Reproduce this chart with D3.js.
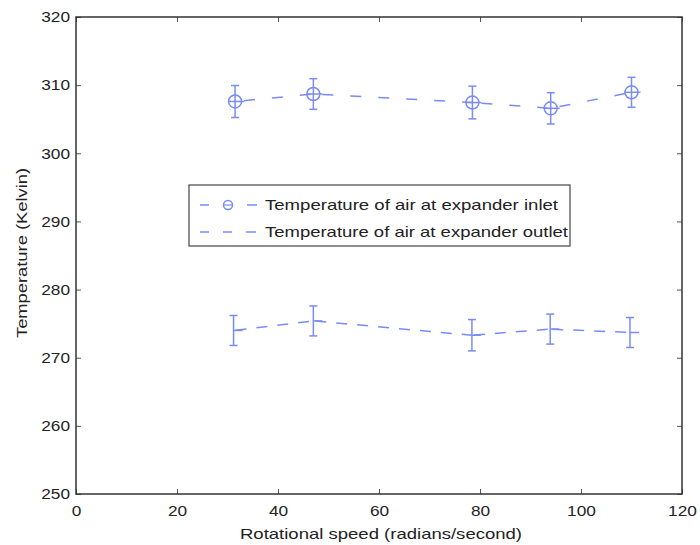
<!DOCTYPE html>
<html>
<head>
<meta charset="utf-8">
<script src="https://cdn.jsdelivr.net/npm/d3@7"></script>
<style>
  body { margin: 0; background: #fff; }
  text { font-family: "Liberation Sans", Arial, sans-serif; fill: #222; }
</style>
</head>
<body>
<div id="chart"></div>
<script>
// values
var speeds = [31.5, 47, 78.5, 94, 110];
var inletTemp = [307.6, 308.7, 307.45, 306.6, 308.95];
var inletErr = [2.35, 2.25, 2.4, 2.3, 2.2];
var outletSpeeds = [31.2, 47, 78.4, 93.9, 109.7];
var outletTemp = [274.0, 275.4, 273.3, 274.2, 273.7];
var outletErr = [2.2, 2.2, 2.3, 2.2, 2.2];
var xTicks = [0, 20, 40, 60, 80, 100, 120];
var yTicks = [250, 260, 270, 280, 290, 300, 310, 320];
var legendLabels = ["Temperature of air at expander inlet", "Temperature of air at expander outlet"];

var inlet = speeds.map(function(s, i) { return { x: s, y: inletTemp[i], e: inletErr[i] }; });
var outlet = outletSpeeds.map(function(s, i) { return { x: s, y: outletTemp[i], e: outletErr[i] }; });

var margin = { top: 17, right: 18, bottom: 51, left: 76 },
    width = 700 - margin.left - margin.right,
    height = 545 - margin.top - margin.bottom;

var blue = "#7a8cf4";

var svg = d3.select("#chart")
  .append("svg")
    .attr("width", 700)
    .attr("height", 545)
  .append("g")
    .attr("transform", "translate(" + margin.left + "," + margin.top + ")");

var x = d3.scaleLinear().domain([0, 120]).range([0, width]);
var y = d3.scaleLinear().domain([250, 320]).range([height, 0]);

// stretch text horizontally (the reference glyphs are wide)
function widen(sel, k) {
  sel.each(function() {
    var w = this.getComputedTextLength();
    d3.select(this).attr("textLength", w * k).attr("lengthAdjust", "spacingAndGlyphs");
  });
}
// fit a centred text to a given width, anchoring by hand
function fitCentered(sel, cx, w) {
  sel.attr("text-anchor", "start")
    .attr("x", cx - w / 2)
    .attr("textLength", w)
    .attr("lengthAdjust", "spacingAndGlyphs");
}

// axes, ticks pointing inward
var xAxis = svg.append("g")
  .attr("transform", "translate(0," + height + ")")
  .call(d3.axisBottom(x).tickValues(xTicks).tickSize(-5).tickPadding(11));
var yAxis = svg.append("g")
  .call(d3.axisLeft(y).tickValues(yTicks).tickSize(-5).tickPadding(6));
svg.append("g")
  .call(d3.axisTop(x).tickValues(xTicks).tickSize(-5).tickFormat(""));
svg.append("g")
  .attr("transform", "translate(" + width + ",0)")
  .call(d3.axisRight(y).tickValues(yTicks).tickSize(-5).tickFormat(""));

svg.selectAll(".domain").remove();
svg.selectAll(".tick line").attr("stroke", "#555").attr("stroke-width", 1);
svg.selectAll(".tick text").style("font-size", "15px").attr("fill", "#222");
xAxis.selectAll(".tick text").each(function() {
  var t = d3.select(this), w = this.getComputedTextLength() * 1.15;
  t.call(fitCentered, 0, w);
});
yAxis.selectAll(".tick text").call(widen, 1.15);

svg.append("rect")
  .attr("width", width)
  .attr("height", height)
  .attr("fill", "none")
  .attr("stroke", "#333")
  .attr("stroke-width", 1.5);

// axis titles
svg.append("text")
  .attr("y", height + 45)
  .style("font-size", "15px")
  .text("Rotational speed (radians/second)")
  .call(fitCentered, 381 - margin.left, 282);

svg.append("text")
  .attr("transform", "translate(" + (-49) + "," + (253 - margin.top) + ")rotate(-90)")
  .style("font-size", "14.5px")
  .text("Temperature (Kelvin)")
  .call(fitCentered, 0, 170);

// dashed connecting lines, one per segment so a dash starts at each point
var line = d3.line().x(function(d) { return x(d.x); }).y(function(d) { return y(d.y); });

function drawSeries(data, withMarker) {
  var g = svg.append("g");
  d3.pairs(data).forEach(function(p) {
    g.append("path")
      .attr("d", line(p))
      .attr("fill", "none")
      .attr("stroke", blue)
      .attr("stroke-width", 1.5)
      .attr("stroke-dasharray", withMarker ? "0,9,11,8" : "0,2,11,8");
  });
  var pts = g.selectAll(".pt").data(data).enter().append("g");
  pts.append("line")
    .attr("x1", function(d) { return x(d.x); })
    .attr("x2", function(d) { return x(d.x); })
    .attr("y1", function(d) { return y(d.y - d.e); })
    .attr("y2", function(d) { return y(d.y + d.e); })
    .attr("stroke", blue).attr("stroke-width", 1.5);
  [-1, 1].forEach(function(s) {
    pts.append("line")
      .attr("x1", function(d) { return x(d.x) - 4; })
      .attr("x2", function(d) { return x(d.x) + 4; })
      .attr("y1", function(d) { return y(d.y + s * d.e); })
      .attr("y2", function(d) { return y(d.y + s * d.e); })
      .attr("stroke", blue).attr("stroke-width", 1.5);
  });
  pts.append("line")
    .attr("x1", function(d) { return x(d.x) - (withMarker ? 7 : 0); })
    .attr("x2", function(d) { return x(d.x) + 9; })
    .attr("y1", function(d) { return y(d.y); })
    .attr("y2", function(d) { return y(d.y); })
    .attr("stroke", blue).attr("stroke-width", 1.5);
  if (withMarker) {
    pts.append("circle")
      .attr("cx", function(d) { return x(d.x); })
      .attr("cy", function(d) { return y(d.y); })
      .attr("r", 6.5)
      .attr("fill", "none")
      .attr("stroke", blue).attr("stroke-width", 1.5);
  }
}

drawSeries(inlet, true);
drawSeries(outlet, false);

// legend
var legendWidths = [293, 303];
var lg = svg.append("g").attr("transform", "translate(" + (189 - margin.left) + "," + (185 - margin.top) + ")");
lg.append("rect")
  .attr("width", 381)
  .attr("height", 61)
  .attr("fill", "#fff")
  .attr("stroke", "#444")
  .attr("stroke-width", 1.2);

legendLabels.forEach(function(label, i) {
  var ry = 20 + i * 27;
  lg.append("line")
    .attr("x1", 11).attr("x2", 68)
    .attr("y1", ry).attr("y2", ry)
    .attr("stroke", blue).attr("stroke-width", 1.5)
    .attr("stroke-dasharray", i === 0 ? "9,38,10" : "9,14,9,14,10");
  if (i === 0) {
    lg.append("circle")
      .attr("cx", 39).attr("cy", ry).attr("r", 4.5)
      .attr("fill", "none").attr("stroke", blue).attr("stroke-width", 1.5);
    lg.append("line")
      .attr("x1", 34.5).attr("x2", 43.5).attr("y1", ry).attr("y2", ry)
      .attr("stroke", blue).attr("stroke-width", 1.2);
  }
  lg.append("text")
    .attr("x", 76)
    .attr("y", ry + 5)
    .style("font-size", "14.5px")
    .text(label)
    .attr("textLength", legendWidths[i])
    .attr("lengthAdjust", "spacingAndGlyphs");
});
</script>
</body>
</html>
